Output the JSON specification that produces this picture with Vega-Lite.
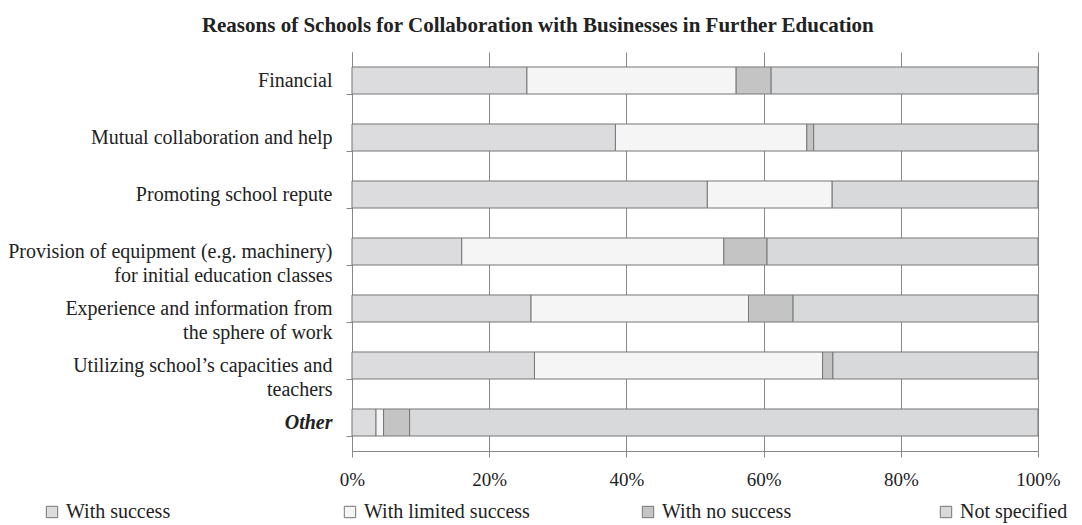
{
  "$schema": "https://vega.github.io/schema/vega-lite/v6.json",
  "width": 686,
  "height": 399,
  "autosize": {"type": "none"},
  "padding": {"left": 352, "top": 52, "right": 44, "bottom": 74},
  "background": "white",
  "title": {
    "text": "Reasons of Schools for Collaboration with Businesses in Further Education",
    "font": "Liberation Serif",
    "fontSize": 21,
    "fontWeight": "bold",
    "color": "#222222",
    "anchor": "middle",
    "frame": "bounds",
    "offset": 16
  },
  "config": {
    "view": {"stroke": null},
    "font": "Liberation Serif"
  },
  "data": {
    "values": [
      {"reason": "Financial", "outcome": "With success", "pct": 25.5},
      {"reason": "Financial", "outcome": "With limited success", "pct": 30.5},
      {"reason": "Financial", "outcome": "With no success", "pct": 5.1},
      {"reason": "Financial", "outcome": "Not specified", "pct": 38.9},
      {"reason": "Mutual collaboration and help", "outcome": "With success", "pct": 38.4},
      {"reason": "Mutual collaboration and help", "outcome": "With limited success", "pct": 27.9},
      {"reason": "Mutual collaboration and help", "outcome": "With no success", "pct": 1.0},
      {"reason": "Mutual collaboration and help", "outcome": "Not specified", "pct": 32.7},
      {"reason": "Promoting school repute", "outcome": "With success", "pct": 51.8},
      {"reason": "Promoting school repute", "outcome": "With limited success", "pct": 18.2},
      {"reason": "Promoting school repute", "outcome": "Not specified", "pct": 30.0},
      {"reason": "Provision of equipment (e.g. machinery) for initial education classes", "outcome": "With success", "pct": 16.0},
      {"reason": "Provision of equipment (e.g. machinery) for initial education classes", "outcome": "With limited success", "pct": 38.2},
      {"reason": "Provision of equipment (e.g. machinery) for initial education classes", "outcome": "With no success", "pct": 6.3},
      {"reason": "Provision of equipment (e.g. machinery) for initial education classes", "outcome": "Not specified", "pct": 39.5},
      {"reason": "Experience and information from the sphere of work", "outcome": "With success", "pct": 26.1},
      {"reason": "Experience and information from the sphere of work", "outcome": "With limited success", "pct": 31.7},
      {"reason": "Experience and information from the sphere of work", "outcome": "With no success", "pct": 6.5},
      {"reason": "Experience and information from the sphere of work", "outcome": "Not specified", "pct": 35.7},
      {"reason": "Utilizing school’s capacities and teachers", "outcome": "With success", "pct": 26.6},
      {"reason": "Utilizing school’s capacities and teachers", "outcome": "With limited success", "pct": 42.0},
      {"reason": "Utilizing school’s capacities and teachers", "outcome": "With no success", "pct": 1.5},
      {"reason": "Utilizing school’s capacities and teachers", "outcome": "Not specified", "pct": 29.9},
      {"reason": "Other", "outcome": "With success", "pct": 3.5},
      {"reason": "Other", "outcome": "With limited success", "pct": 1.1},
      {"reason": "Other", "outcome": "With no success", "pct": 3.8},
      {"reason": "Other", "outcome": "Not specified", "pct": 91.6}
    ]
  },
  "transform": [
    {"calculate": "indexof(['With success', 'With limited success', 'With no success', 'Not specified'], datum.outcome)", "as": "stackOrder"}
  ],
  "mark": {"type": "bar", "stroke": "#767676", "strokeWidth": 1},
  "encoding": {
    "y": {
      "field": "reason",
      "type": "nominal",
      "sort": null,
      "title": null,
      "scale": {"paddingInner": 0.526, "paddingOuter": 0.263},
      "axis": {
        "domainColor": "#888888",
        "tickColor": "#888888",
        "tickSize": 6,
        "bandPosition": 1,
        "labelFont": "Liberation Serif",
        "labelFontSize": 20,
        "labelColor": "#222222",
        "labelPadding": 14,
        "labelLimit": 345,
        "labelLineHeight": 24,
        "labelFontWeight": {"condition": {"test": "datum.value == 'Other'", "value": "bold"}, "value": "normal"},
        "labelFontStyle": {"condition": {"test": "datum.value == 'Other'", "value": "italic"}, "value": "normal"},
        "labelExpr": "datum.value == 'Provision of equipment (e.g. machinery) for initial education classes' ? ['Provision of equipment (e.g. machinery)', 'for initial education classes'] : datum.value == 'Experience and information from the sphere of work' ? ['Experience and information from', 'the sphere of work'] : datum.value == 'Utilizing school’s capacities and teachers' ? ['Utilizing school’s capacities and', 'teachers'] : datum.value"
      }
    },
    "x": {
      "field": "pct",
      "type": "quantitative",
      "stack": "normalize",
      "title": null,
      "axis": {
        "format": ".0%",
        "values": [0, 0.2, 0.4, 0.6, 0.8, 1],
        "grid": true,
        "gridColor": "#8a8a8a",
        "gridOpacity": 1,
        "domainColor": "#888888",
        "tickColor": "#888888",
        "tickSize": 6,
        "labelFont": "Liberation Serif",
        "labelFontSize": 19,
        "labelColor": "#222222",
        "labelPadding": 13,
        "labelFlush": false
      }
    },
    "order": {"field": "stackOrder", "type": "quantitative", "sort": "ascending"},
    "color": {
      "field": "outcome",
      "type": "nominal",
      "sort": ["With success", "With limited success", "With no success", "Not specified"],
      "scale": {
        "domain": ["With success", "With limited success", "With no success", "Not specified"],
        "range": ["#dcdcde", "#f5f5f5", "#c4c4c5", "#d8d9db"]
      },
      "legend": {
        "title": null,
        "orient": "none",
        "legendX": -310,
        "legendY": 450,
        "direction": "horizontal",
        "columns": 4,
        "gridAlign": "all",
        "columnPadding": 108,
        "symbolType": "square",
        "symbolSize": 130,
        "symbolStrokeColor": "#767676",
        "symbolStrokeWidth": 1,
        "labelFont": "Liberation Serif",
        "labelFontSize": 20,
        "labelColor": "#222222",
        "labelOffset": 4,
        "labelLimit": 300
      }
    }
  }
}
